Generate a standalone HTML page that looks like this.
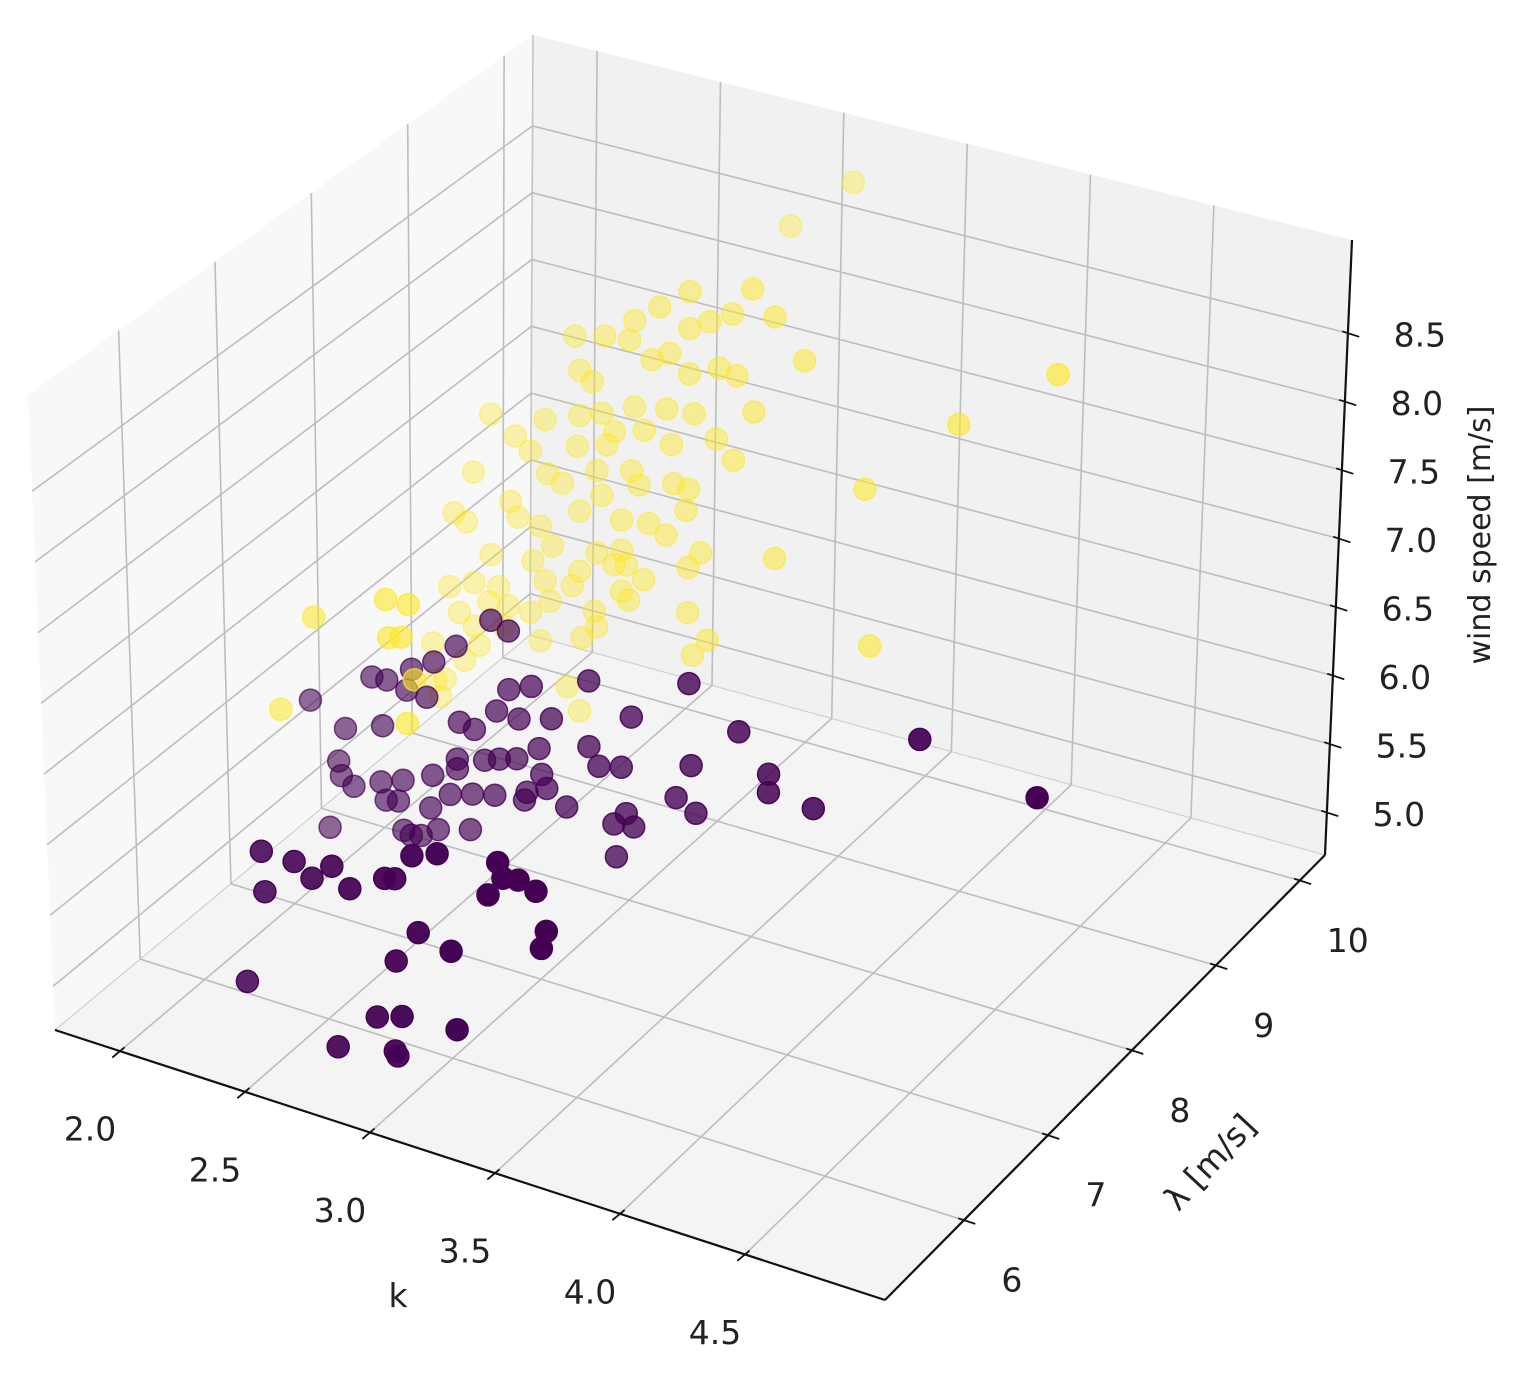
<!DOCTYPE html>
<html>
<head>
<meta charset="utf-8">
<style>
  html,body{margin:0;padding:0;background:#fff;}
  svg{display:block;}
  text{font-family:"DejaVu Sans","Liberation Sans",sans-serif;fill:#222;}
</style>
</head>
<body>
<svg id="chart" width="1524" height="1386" viewBox="0 0 1524 1386" xmlns="http://www.w3.org/2000/svg">
  <g id="panes"></g>
  <g id="grid"></g>
  <g id="axes"></g>
  <g id="points"></g>
  <text x="398" y="1307" font-size="33" text-anchor="middle">k</text>
  <text x="0" y="0" font-size="33" text-anchor="middle" transform="translate(1218,1170) rotate(-47)">λ [m/s]</text>
  <text x="0" y="0" font-size="30" text-anchor="middle" transform="translate(1490,535) rotate(-90)">wind speed [m/s]</text>
</svg>
<script>
// ---- data ----
const kTicks = [2.0, 2.5, 3.0, 3.5, 4.0, 4.5];
const kTickLabels = ["2.0", "2.5", "3.0", "3.5", "4.0", "4.5"];
const lTicks = [6, 7, 8, 9, 10];
const lTickLabels = ["6", "7", "8", "9", "10"];
const zTicks = [5.0, 5.5, 6.0, 6.5, 7.0, 7.5, 8.0, 8.5];
const zTickLabels = ["5.0", "5.5", "6.0", "6.5", "7.0", "7.5", "8.0", "8.5"];

// high wind-speed cluster (yellow)
const yellowK = [3.14,2.89,2.97,3.22,2.85,2.75,2.63,2.51,2.73,2.97,3.05,3.14,3.31,3.43,3.09,3.16,2.97,2.53,2.58,2.82,2.89,4.44,4.05,3.68,3.32,3.71,2.17,2.27,2.39,2.53,2.62,2.75,2.88,2.99,3.23,3.08,2.33,2.52,2.40,2.64,2.67,2.79,2.90,2.60,2.74,2.46,2.62,2.77,2.91,2.97,3.15,2.10,2.25,2.07,2.02,2.28,2.37,2.42,2.53,2.70,2.81,2.96,3.02,2.88,2.70,2.67,2.72,2.60,2.34,2.17,2.10,2.00,2.20,2.24,2.39,2.50,2.53,2.70,2.79,2.97,2.97,3.05,2.99,2.73,2.59,2.60,2.41,2.33,2.04,2.10,2.22,1.93,2.06,1.98,1.94,1.96,2.12,2.48,2.53,2.16,2.37,2.54,2.42,2.33,2.34,2.39,2.44,2.04,1.90,2.41];
const yellowLambda = [10.04,10.04,8.73,8.73,8.73,8.73,8.73,8.73,8.73,8.73,8.73,8.73,8.73,8.73,8.73,8.73,8.73,8.73,8.73,8.73,8.73,8.73,8.73,8.73,8.73,8.73,8.73,8.73,8.73,8.73,8.73,8.73,8.73,8.73,8.73,8.73,8.73,8.73,8.73,8.73,8.73,8.73,8.73,8.73,8.73,8.73,8.73,8.73,8.73,8.73,8.73,8.73,8.73,8.73,8.73,8.73,8.73,8.73,8.73,8.73,8.73,8.73,8.73,8.73,8.73,8.73,8.73,8.73,8.73,8.73,8.73,8.73,8.73,8.73,8.73,8.73,8.73,8.73,8.73,8.73,8.73,8.73,8.73,8.73,8.73,8.73,8.73,8.73,8.73,8.73,8.73,8.73,8.73,8.73,8.73,8.73,8.73,8.73,8.73,8.73,8.73,8.73,7.16,7.16,7.16,7.16,7.16,7.16,7.16,7.16];
const yellowWS = [8.87,8.43,8.69,8.83,8.52,8.37,8.20,8.14,8.22,8.42,8.51,8.61,8.67,8.41,8.19,8.17,8.09,7.90,7.84,8.12,8.20,8.80,8.25,7.60,6.92,6.48,7.40,7.29,7.47,7.57,7.63,7.74,7.79,7.81,7.94,7.67,7.21,7.34,7.08,7.41,7.52,7.59,7.54,7.20,7.27,7.04,7.03,7.18,7.26,7.25,7.55,6.94,6.80,6.56,6.60,6.70,6.68,6.56,6.87,6.89,6.92,7.09,6.81,6.87,6.67,6.55,6.57,6.60,6.41,6.37,6.13,6.05,6.15,6.03,6.29,6.31,6.43,6.37,6.50,6.68,6.35,6.19,6.05,6.32,6.17,6.06,6.15,6.03,5.88,5.81,5.87,5.60,5.54,5.36,5.33,5.22,5.68,5.56,5.41,6.02,5.84,5.95,6.98,6.97,6.70,6.73,6.45,6.69,5.95,6.12];

// low wind-speed cluster (purple)
const purpleK = [2.75,2.82,2.52,2.27,2.33,2.41,2.43,2.49,2.02,2.82,2.91,2.77,2.86,2.99,3.14,3.31,3.54,3.74,2.16,2.31,2.62,2.68,2.78,2.94,3.14,3.27,3.18,3.55,3.86,3.86,2.13,2.14,2.19,2.30,2.39,2.51,2.61,2.61,2.72,2.85,2.95,2.97,2.88,2.89,2.76,2.67,2.58,2.50,2.32,2.37,2.42,2.09,2.39,2.46,2.53,2.66,3.05,3.24,3.29,3.32,3.25,3.49,3.57,4.04,4.46,4.93,2.61,2.40,2.53,2.60,2.68,2.41,2.75,2.89,2.93,3.00,3.10,3.34,3.36,3.42,3.49,3.30,3.53,3.51,3.02,3.15,2.93,2.33,2.85,2.95,3.17,2.69,2.92,2.93];
const purpleLambda = [7.16,7.16,7.16,7.16,7.16,7.16,7.16,7.16,7.16,7.16,7.16,7.16,7.16,7.16,7.16,7.16,7.16,7.16,7.16,7.16,7.16,7.16,7.16,7.16,7.16,7.16,7.16,7.16,7.16,7.16,7.16,7.16,7.16,7.16,7.16,7.16,7.16,7.16,7.16,7.16,7.16,7.16,7.16,7.16,7.16,7.16,7.16,7.16,7.16,7.16,7.16,7.16,7.16,7.16,7.16,7.16,7.16,7.16,7.16,7.16,7.16,7.16,7.16,7.16,7.16,7.16,7.16,5.58,5.58,5.58,5.58,5.58,5.58,5.58,5.58,5.58,5.58,5.58,5.58,5.58,5.58,5.58,5.58,5.58,5.58,5.58,5.58,5.58,5.58,5.58,5.58,5.58,5.58,5.58];
const purpleWS = [7.04,7.00,6.62,6.38,6.39,6.36,6.52,6.35,6.08,6.58,6.65,6.40,6.39,6.46,6.81,6.64,7.00,6.76,5.95,6.05,6.24,6.22,6.06,6.22,6.34,6.26,6.22,6.42,6.52,6.39,5.70,5.60,5.55,5.64,5.70,5.80,5.97,5.90,6.02,6.10,6.04,5.95,5.82,5.88,5.79,5.75,5.70,5.56,5.52,5.54,5.32,5.20,5.34,5.34,5.42,5.49,5.86,5.84,5.94,5.86,5.61,6.16,6.09,6.37,7.08,6.91,6.78,6.05,6.05,5.97,6.10,5.77,5.98,6.13,6.15,6.35,6.42,6.49,6.39,6.41,6.37,6.24,6.11,5.98,5.82,5.76,5.57,5.09,5.13,5.19,5.22,4.83,4.93,4.90];

// ---- axis limits ----
const K0 = 1.74, K1 = 5.06, L0 = 5.06, L1 = 10.30, Z0 = 4.69, Z1 = 9.18;

const NS = "http://www.w3.org/2000/svg";
function bil(a, b, c, d, u, v) { return a*(1-u)*(1-v) + b*u*(1-v) + c*u*v + d*(1-u)*v; }
function proj(k, l, z) {
  const u = (k - K0) / (K1 - K0), v = (l - L0) / (L1 - L0), w = (z - Z0) / (Z1 - Z0);
  const fx = bil(55, 885, 1325, 530, u, v);
  const fy = bil(1030, 1300, 855, 635, u, v);
  const h = bil(635, 650, 615, 600, u, v);
  const dx = bil(-27, 10, 27, 3, u, v);
  return [fx + dx*w, fy - h*w, fy];
}
function mk(tag, attrs, parent) {
  const el = document.createElementNS(NS, tag);
  for (const a in attrs) el.setAttribute(a, attrs[a]);
  parent.appendChild(el);
  return el;
}
function pts(list) { return list.map(p => p[0].toFixed(1) + "," + p[1].toFixed(1)).join(" "); }

const panes = document.getElementById("panes");
const grid = document.getElementById("grid");
const axes = document.getElementById("axes");
const pointsG = document.getElementById("points");

let el;
el = mk("polygon", {points: pts([proj(K0,L0,Z0), proj(K0,L1,Z0), proj(K0,L1,Z1), proj(K0,L0,Z1)]), fill: "#f8f8f8", stroke: "none"}, panes);


el = mk("polygon", {points: pts([proj(K0,L1,Z0), proj(K1,L1,Z0), proj(K1,L1,Z1), proj(K0,L1,Z1)]), fill: "#f1f1f1", stroke: "none"}, panes);


el = mk("polygon", {points: pts([proj(K0,L0,Z0), proj(K1,L0,Z0), proj(K1,L1,Z0), proj(K0,L1,Z0)]), fill: "#f4f4f4", stroke: "none"}, panes);



function line(p, q, parent, color, width, name) {
  const e = mk("line", {x1: p[0].toFixed(1), y1: p[1].toFixed(1), x2: q[0].toFixed(1), y2: q[1].toFixed(1), stroke: color, "stroke-width": width, "stroke-linecap": "butt"}, parent);
  
  
  return e;
}
const GC = "#bdbdbd", GW = 1.6;
line(proj(K0,L1,Z0), proj(K0,L1,Z1), grid, "#c4c4c4", 1.6, "pane-edge");
line(proj(K0,L0,Z0), proj(K0,L1,Z0), grid, "#d0d0d0", 1.2, "pane-edge");
line(proj(K0,L1,Z0), proj(K1,L1,Z0), grid, "#d0d0d0", 1.2, "pane-edge");

kTicks.forEach(k => {
  line(proj(k,L0,Z0), proj(k,L1,Z0), grid, GC, GW, "grid-line-k-floor");
  line(proj(k,L1,Z0), proj(k,L1,Z1), grid, GC, GW, "grid-line-k-back");
});
lTicks.forEach(l => {
  line(proj(K0,l,Z0), proj(K1,l,Z0), grid, GC, GW, "grid-line-lambda-floor");
  line(proj(K0,l,Z0), proj(K0,l,Z1), grid, GC, GW, "grid-line-lambda-left");
});
zTicks.forEach(z => {
  line(proj(K0,L0,z), proj(K0,L1,z), grid, GC, GW, "grid-line-z-left");
  line(proj(K0,L1,z), proj(K1,L1,z), grid, GC, GW, "grid-line-z-back");
});

line(proj(K0,L0,Z0), proj(K1,L0,Z0), axes, "#111", 2.2, "x-axis-line");
line(proj(K1,L0,Z0), proj(K1,L1,Z0), axes, "#111", 2.2, "y-axis-line");
line(proj(K1,L1,Z0), proj(K1,L1,Z1), axes, "#111", 2.2, "z-axis-line");

const kDir = [-0.769, 0.639], sideDir = [0.951, 0.309];
function tick(p, d, a, b, name) {
  return line([p[0]+d[0]*a, p[1]+d[1]*a], [p[0]+d[0]*b, p[1]+d[1]*b], axes, "#111", 1.8, name);
}
function label(x, y, str, name) {
  const t = mk("text", {x: x.toFixed(1), y: y.toFixed(1), "font-size": 33, "text-anchor": "middle", "dominant-baseline": "central"}, axes);
  t.textContent = str;
  
  
}
kTicks.forEach((k, i) => {
  const p = proj(k, L0, Z0);
  tick(p, kDir, -6, 10, "x-tick");
  label(p[0] - 30, p[1] + 78, kTickLabels[i], "x-tick-label");
});
lTicks.forEach((l, i) => {
  const p = proj(K1, l, Z0);
  tick(p, sideDir, -6, 12, "y-tick");
  label(p[0] + 48, p[1] + 60, lTickLabels[i], "y-tick-label");
});
zTicks.forEach((z, i) => {
  const p = proj(K1, L1, z);
  tick(p, sideDir, -6, 12, "z-tick");
  label(p[0] + 72, p[1] + 2, zTickLabels[i], "z-tick-label");
});

const all = [];
yellowK.forEach((k, i) => all.push({p: proj(k, yellowLambda[i], yellowWS[i]), c: "#fde725", cls: "yellow"}));
purpleK.forEach((k, i) => all.push({p: proj(k, purpleLambda[i], purpleWS[i]), c: "#440154", cls: "purple"}));
all.sort((a, b) => a.p[2] - b.p[2]);
all.forEach(d => {
  let a = 0.3 + 0.7 * (d.p[2] - 750) / 360;
  a = Math.max(0.3, Math.min(1, a));
  if (d.cls === "yellow") a = Math.max(0.35, a * 0.95);
  const c = mk("circle", {cx: d.p[0].toFixed(1), cy: d.p[1].toFixed(1), r: 11, fill: d.c, "fill-opacity": a.toFixed(2), stroke: d.c, "stroke-opacity": Math.min(1, a + 0.1).toFixed(2), "stroke-width": 1.5}, pointsG);
  
  
});
</script>
</body>
</html>
